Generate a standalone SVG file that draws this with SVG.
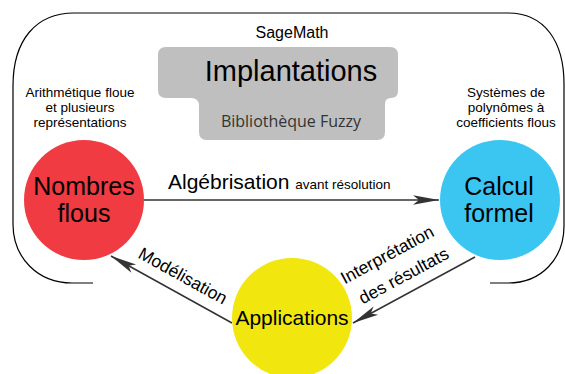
<svg xmlns="http://www.w3.org/2000/svg" width="565" height="374" viewBox="0 0 565 374">
<defs>
<style>
text{font-family:"Liberation Sans",Arial,sans-serif;fill:#000}
.small{font-size:13.5px;text-anchor:middle}
.big{font-size:25px;text-anchor:middle}
.lbl{font-size:17.5px}
.conn{stroke:#333;stroke-width:1.5;fill:none}
</style>
<marker id="ah" markerUnits="userSpaceOnUse" markerWidth="30" markerHeight="14" viewBox="-27 -7 30 14" refX="0" refY="0" orient="auto">
<path d="M0,0 L-26,-4.8 L-20,0 L-26,4.8 Z" fill="#333"/>
</marker>
</defs>
<g id="frame">
<path d="M93,283 L72,283 C38,283 13,258 13,224 L13,86 C13,40 36,13 74,13 L508,13 C545,13 564,42 564,84 L564,226 C564,258 542,283 508,283 L490,283" fill="none" stroke="#000" stroke-width="1.2"/>
<text x="292" y="38" font-size="16" text-anchor="middle">SageMath</text>
</g>
<g id="implantations">
<path d="M166,47 H390 Q398,47 398,55 V91 Q398,98 391,98 Q385,98 385,104 V132 Q385,140 377,140 H207 Q199,140 199,132 V106 Q199,98 191,98 H166 Q158,98 158,90 V55 Q158,47 166,47 Z" fill="#bfbfbf"/>
<text x="291" y="81" font-size="29" text-anchor="middle">Implantations</text>
<text x="291" y="127" font-size="16" text-anchor="middle" style="font-family:'Open Sans','Noto Sans',sans-serif;fill:#333">Bibliothèque Fuzzy</text>
</g>
<g id="label-left">
<text class="small" x="80" y="97">Arithmétique floue</text>
<text class="small" x="80" y="112">et plusieurs</text>
<text class="small" x="80" y="127">représentations</text>
</g>
<g id="label-right">
<text class="small" x="506" y="97">Systèmes de</text>
<text class="small" x="506" y="112">polynômes à</text>
<text class="small" x="506" y="127">coefficients flous</text>
</g>
<g id="connectors">
<line class="conn" x1="144" y1="200" x2="439" y2="200" marker-end="url(#ah)"/>
<line class="conn" x1="232" y1="323" x2="111" y2="256" marker-end="url(#ah)"/>
<line class="conn" x1="475" y1="257" x2="353" y2="323" marker-end="url(#ah)"/>
<text x="168" y="189" font-size="21">Algébrisation <tspan font-size="13.5">avant résolution</tspan></text>
<text class="lbl" text-anchor="middle" transform="translate(180,281) rotate(29)">Modélisation</text>
<text class="lbl" text-anchor="middle" transform="translate(390,260) rotate(-28.4)">Interprétation</text>
<text class="lbl" text-anchor="middle" transform="translate(406.5,281) rotate(-28.4)">des résultats</text>
</g>
<g id="nombres-flous">
<circle cx="84" cy="200" r="60" fill="#ef3b41"/>
<text class="big" x="84" y="195">Nombres</text>
<text class="big" x="84" y="222">flous</text>
</g>
<g id="calcul-formel">
<circle cx="500" cy="200" r="60" fill="#3bc6f2"/>
<text class="big" x="499" y="195">Calcul</text>
<text class="big" x="499" y="222">formel</text>
</g>
<g id="applications">
<circle cx="292" cy="318" r="60" fill="#f2e60f"/>
<text x="292" y="325" font-size="21" text-anchor="middle">Applications</text>
</g>
</svg>
